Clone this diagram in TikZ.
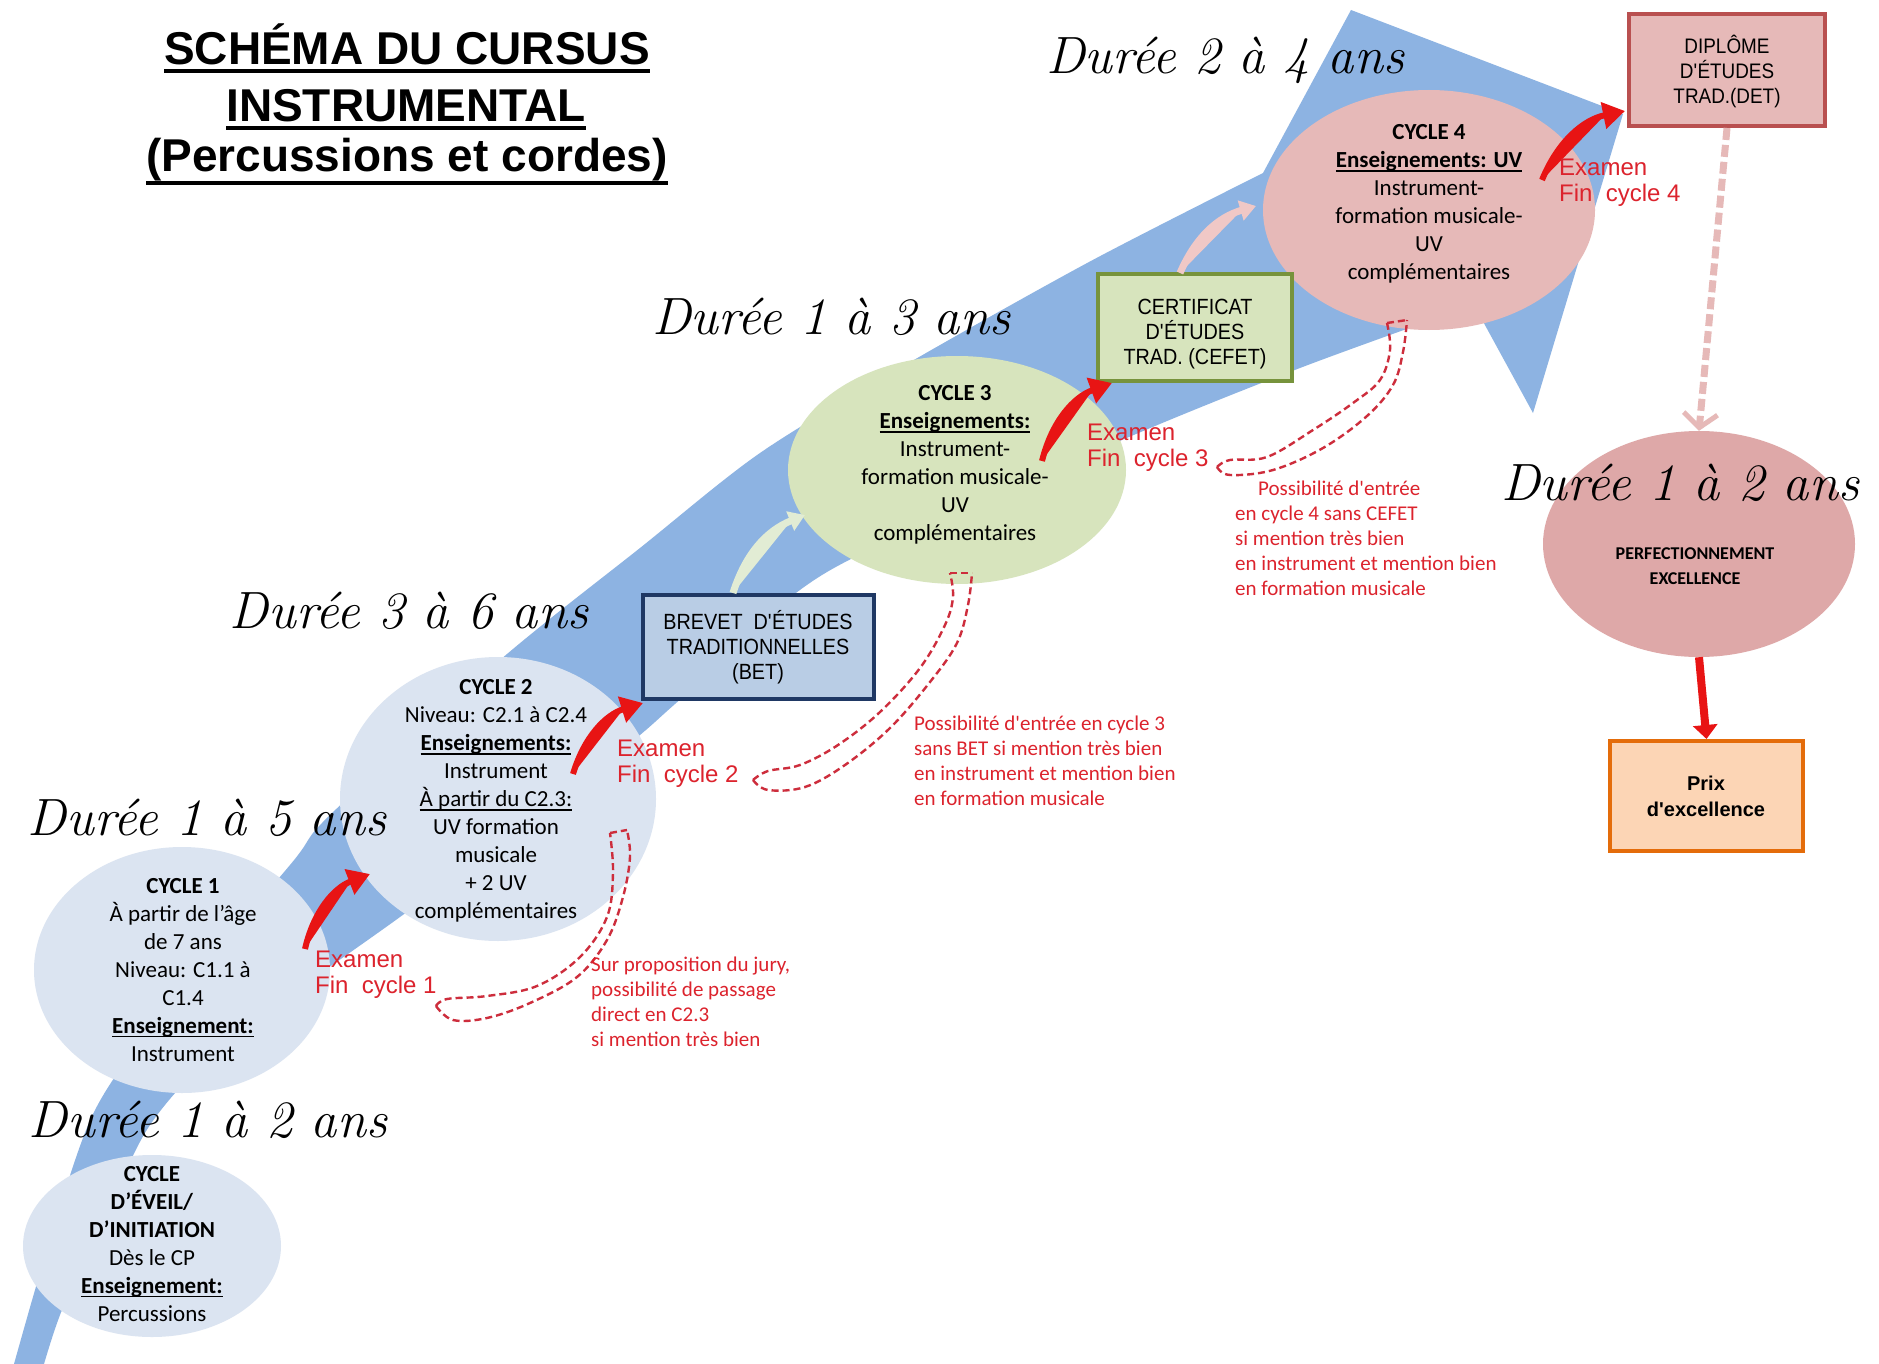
\documentclass[tikz,border=0pt]{standalone}
\usepackage[T1]{fontenc}
\usepackage{fontspec}
\usepackage{graphicx}
\setmainfont{Carlito}
\newfontfamily\arialf{Liberation Sans}
\newfontfamily\arialnf{Liberation Sans}[FakeStretch=0.9]
\newfontfamily\lmrf{Latin Modern Roman}
\usetikzlibrary{arrows.meta,shapes.geometric}
\IfFileExists{uzcmi8a.pfb}{%
  \newcommand\durfont{\fontencoding{T1}\fontfamily{pzc}\fontseries{mb}\fontshape{it}\selectfont}}{%
  \IfFileExists{z003034l.pfb}{%
    \newcommand\durfont{\fontencoding{T1}\fontfamily{pzc}\fontseries{mb}\fontshape{it}\selectfont}}{%
    \IfFileExists{qzcmi.pfb}{%
      \newcommand\durfont{\fontencoding{T1}\fontfamily{qzc}\fontseries{m}\fontshape{it}\selectfont}}{%
      \newcommand\durfont{\lmrf\itshape}}}}
\newcommand\durtext[1]{\resizebox{358pt}{!}{\durfont\fontsize{40}{44}\selectfont #1}}
\newcommand\ulx[1]{\leavevmode\setbox0\hbox{#1}\rlap{\rule[-4pt]{\wd0}{1.6pt}}\box0}
\newcommand\sq{\textquotesingle}
\definecolor{bandblue}{RGB}{141,179,226}
\definecolor{cyc12}{RGB}{219,228,241}
\definecolor{cyc3}{RGB}{215,228,189}
\definecolor{cyc4}{RGB}{230,185,184}
\definecolor{perfc}{RGB}{222,168,168}
\definecolor{betfill}{RGB}{185,205,229}
\definecolor{betline}{RGB}{31,56,100}
\definecolor{cefline}{RGB}{119,147,60}
\definecolor{detline}{RGB}{185,80,80}
\definecolor{prixfill}{RGB}{252,213,181}
\definecolor{prixline}{RGB}{228,108,10}
\definecolor{arrred}{RGB}{232,20,20}
\definecolor{txtred}{RGB}{220,35,45}
\definecolor{dshred}{RGB}{205,45,60}
\definecolor{fadegreen}{RGB}{226,236,212}
\definecolor{fadepink}{RGB}{240,200,198}
\definecolor{pinkdash}{RGB}{230,185,184}
\tikzset{
  cyc/.style={ellipse, inner sep=0pt, draw=none},
  ctext/.style={align=center, inner sep=0pt, font=\fontsize{23}{28}\selectfont},
  box/.style={draw, line width=4pt, inner sep=0pt},
  boxtext/.style={align=center, inner sep=0pt, font=\arialnf\fontsize{22}{25}\selectfont},
  ttl/.style={font=\arialf\bfseries\fontsize{46}{50}\selectfont, inner sep=0pt, anchor=base},
  dur/.style={inner sep=0pt},
  ann/.style={align=left, anchor=west, inner sep=0pt, text=txtred, font=\fontsize{21}{25}\selectfont},
  exam/.style={align=left, anchor=west, inner sep=0pt, text=txtred, font=\arialf\fontsize{24}{26}\selectfont},
  dsh/.style={draw=dshred, line width=2.4pt, dash pattern=on 7pt off 4pt},
  redarr/.style={draw=arrred, line width=6pt, -{Triangle[length=22pt,width=26pt]}},
  fadearr/.style={line width=7pt, -{Triangle[length=16pt,width=20pt]}}
}
\begin{document}
\begin{tikzpicture}[x=1pt,y=-1pt]
\useasboundingbox (0,0) rectangle (1879,1364);
\fill[white] (0,0) rectangle (1879,1364);
% big blue arrow
\fill[bandblue] plot[smooth,tension=0.5] coordinates {(14,1364) (35,1290) (62,1200) (95,1110) (150,1030) (290,865) (330,815) (500,660) (640,548) (760,453) (900,368) (1089,262) (1263,173)}
  -- (1351,10) -- (1623,114) -- (1533,413)
  -- plot[smooth,tension=0.5] coordinates {(1474,305) (1300,368) (1115,443) (827,572) (683,697) (640,735) (560,800) (400,917) (230,1040) (150,1125) (100,1230) (62,1310) (44,1364)} -- cycle;
% ellipses
\node[cyc, fill=cyc12, minimum width=258pt, minimum height=182pt] (eveil) at (152,1246) {};
\node[cyc, fill=cyc12, minimum width=296pt, minimum height=246pt] (c1) at (182,970) {};
\node[cyc, fill=cyc12, minimum width=316pt, minimum height=284pt] (c2) at (498,799) {};
\node[cyc, fill=cyc3, minimum width=338pt, minimum height=228pt] (c3) at (957,470) {};
\node[cyc, fill=cyc4, minimum width=332pt, minimum height=240pt] (c4) at (1429,210) {};
\node[cyc, fill=perfc, minimum width=312pt, minimum height=226pt] (perf) at (1699,544) {};
% boxes
\node[box, draw=betline, fill=betfill, minimum width=231pt, minimum height=104pt] (bet) at (758.5,647) {};
\node[box, draw=cefline, fill=cyc3, minimum width=194pt, minimum height=107pt] (cefet) at (1195,327.5) {};
\node[box, draw=detline, fill=cyc4, minimum width=196pt, minimum height=112pt] (det) at (1727,70) {};
\node[box, draw=prixline, fill=prixfill, minimum width=193pt, minimum height=110pt] (prix) at (1706.5,796) {};
\node[boxtext] (bett) at (758,647) {BREVET\ \ D\sq ÉTUDES\\TRADITIONNELLES\\(BET)};
\node[boxtext] (ceft) at (1195,334) {CERTIFICAT\\D\sq ÉTUDES\\TRAD. (CEFET)};
\node[boxtext, font=\arialnf\fontsize{21}{25}\selectfont] (dett) at (1727,71) {DIPLÔME\\D\sq ÉTUDES\\TRAD.(DET)};
\node[align=center, inner sep=0pt, font=\arialf\bfseries\fontsize{20}{26}\selectfont] (prixt) at (1706,796) {Prix\\d\sq excellence};
% cycle texts
\node[ctext] (eveilt) at (152,1244) {\textbf{CYCLE}\\\textbf{D’ÉVEIL/}\\\textbf{D’INITIATION}\\Dès le CP\\\ulx{\textbf{Enseignement:}}\\Percussions};
\node[ctext] (c1t) at (183,970) {\textbf{CYCLE 1}\\À partir de l’âge\\de 7 ans\\Niveau: C1.1 à\\C1.4\\\ulx{\textbf{Enseignement:}}\\Instrument};
\node[ctext] (c2t) at (496,801) {\textbf{CYCLE 2}\\Niveau: C2.1 à C2.4\\\ulx{\textbf{Enseignements:}}\\Instrument\\\ulx{À partir du C2.3:}\\UV formation\\musicale\\+ 2 UV\\complémentaires};
\node[ctext] (c3t) at (955,465) {\textbf{CYCLE 3}\\\ulx{\textbf{Enseignements:}}\\Instrument-\\formation musicale-\\UV\\complémentaires};
\node[ctext] (c4t) at (1429,204) {\textbf{CYCLE 4}\\\ulx{\textbf{Enseignements: UV}}\\Instrument-\\formation musicale-\\UV\\complémentaires};
\node[align=center, inner sep=0pt, font=\bfseries\fontsize{18}{25}\selectfont] (perft) at (1695,566) {PERFECTIONNEMENT\\EXCELLENCE};
% dashed hollow curved arrows
\draw[dsh] plot[smooth,tension=0.6] coordinates {(436,1006) (447,999) (487,996) (537,986) (580,957) (607,917) (613,873) (610,833)};
\draw[dsh] plot[smooth,tension=0.6] coordinates {(436,1006) (453,1020) (487,1018) (530,1003) (577,977) (607,940) (623,897) (630,857) (627,830)};
\draw[dsh] (610,833) -- (627,830);
\draw[dsh] plot[smooth,tension=0.6] coordinates {(753,780) (768,771) (800,765) (838,745) (880,712) (920,668) (945,625) (953,597) (950,573)};
\draw[dsh] plot[smooth,tension=0.6] coordinates {(753,780) (768,790) (805,787) (845,765) (890,728) (930,682) (957,643) (968,605) (972,573)};
\draw[dsh] (950,573) -- (972,573);
\draw[dsh] plot[smooth,tension=0.6] coordinates {(1217,467) (1230,460) (1267,457) (1313,430) (1353,403) (1380,380) (1390,350) (1387,323)};
\draw[dsh] plot[smooth,tension=0.6] coordinates {(1217,467) (1230,475) (1273,470) (1323,448) (1367,416) (1393,385) (1403,352) (1407,320)};
\draw[dsh] (1387,323) -- (1407,320);
% faded arrows
\coordinate (f1s) at (733,593); \coordinate (f1e) at (805,515);
\coordinate (f2s) at (1180,273); \coordinate (f2e) at (1256,206);
\draw[fadearr, draw=fadegreen, fill=fadegreen] (f1s) to[bend left=25] (f1e);
\draw[fadearr, draw=fadepink, fill=fadepink] (f2s) to[bend left=25] (f2e);
% red exam arrows
\coordinate (a1s) at (305,949); \coordinate (a1e) at (370,874);
\coordinate (a2s) at (573,774); \coordinate (a2e) at (643,703);
\coordinate (a3s) at (1042,461); \coordinate (a3e) at (1112,383);
\coordinate (a4s) at (1542,180); \coordinate (a4e) at (1625,111);
\draw[redarr, fill=arrred] (a1s) to[bend left=28] (a1e);
\draw[redarr, fill=arrred] (a2s) to[bend left=28] (a2e);
\draw[redarr, fill=arrred] (a3s) to[bend left=28] (a3e);
\draw[redarr, fill=arrred] (a4s) to[bend left=28] (a4e);
% vertical arrows
\draw[draw=pinkdash, line width=7pt, dash pattern=on 12pt off 5pt, -{Straight Barb[length=14pt,width=34pt,line width=5pt]}] (det.south) -- (perf.north);
\draw[draw=arrred, line width=8pt, -{Triangle[length=14pt,width=24pt]}, fill=arrred] (perf.south) -- (prix.north);
% exam labels
\node[exam] (e1) at (315,975) {Examen\\Fin\ \ cycle 1};
\node[exam] (e2) at (617,764) {Examen\\Fin\ \ cycle 2};
\node[exam] (e3) at (1087,448) {Examen\\Fin\ \ cycle 3};
\node[exam] (e4) at (1559,183) {Examen\\Fin\ \ cycle 4};
% annotations
\node[ann] (n1) at (591,1002) {Sur proposition du jury,\\possibilité de passage\\direct en C2.3\\si mention très bien};
\node[ann] (n2) at (914,761) {Possibilité d\sq entrée en cycle 3\\sans BET si mention très bien\\en instrument et mention bien\\en formation musicale};
\node[ann] (n3) at (1235,538) {\hspace*{23pt}Possibilité d\sq entrée\\en cycle 4 sans CEFET\\si mention très bien\\en instrument et mention bien\\en formation musicale};
% durations
\node[dur] (d1) at (1225,60) {\durtext{Durée 2 à 4 ans}};
\node[dur] (d2) at (831,317) {\durtext{Durée 1 à 3 ans}};
\node[dur] (d3) at (409,611) {\durtext{Durée 3 à 6 ans}};
\node[dur] (d4) at (207,818) {\durtext{Durée 1 à 5 ans}};
\node[dur] (d5) at (208,1120) {\durtext{Durée 1 à 2 ans}};
\node[dur] (d6) at (1680,483) {\durtext{Durée 1 à 2 ans}};
% title
\node[ttl] (t1) at (407,65) {SCHÉMA DU CURSUS};
\node[ttl] (t2) at (406,122) {INSTRUMENTAL};
\node[ttl] (t3) at (407,172) {(Percussions et cordes)};
\draw[line width=4pt] ([yshift=-6pt]t1.base west) -- ([yshift=-6pt]t1.base east);
\draw[line width=4pt] ([yshift=-6pt]t2.base west) -- ([yshift=-6pt]t2.base east);
\draw[line width=4pt] ([yshift=-11pt]t3.base west) -- ([yshift=-11pt]t3.base east);
\end{tikzpicture}
\end{document}
